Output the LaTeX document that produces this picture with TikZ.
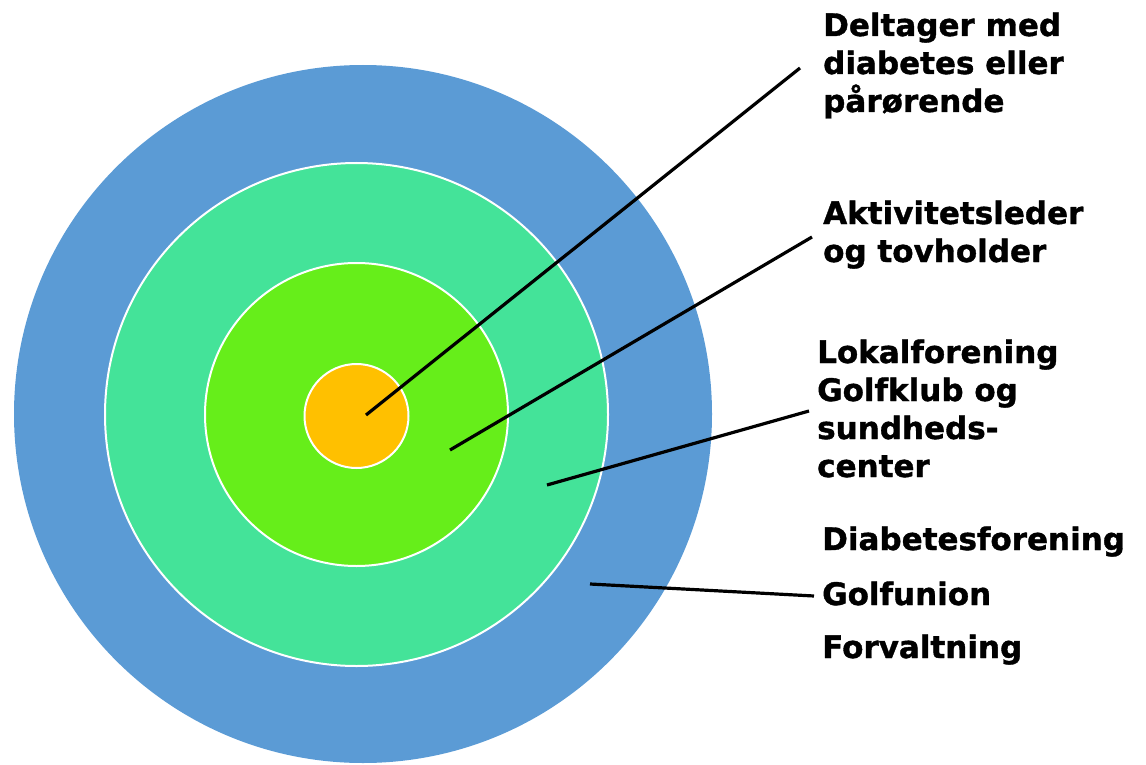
\documentclass[tikz,border=0pt]{standalone}
\usepackage{fontspec}
\setmainfont{DejaVu Sans}
\newfontfamily\labelfont{DejaVu Sans Bold}[FakeBold=1.2]
\definecolor{ringblue}{HTML}{5B9BD5}
\definecolor{ringteal}{HTML}{44E399}
\definecolor{ringlime}{HTML}{66EE1A}
\definecolor{ringorange}{HTML}{FFC000}
\tikzset{
  ring/.style={draw=white, line width=2pt},
  pointer/.style={draw=black, line width=3.2pt},
  label/.style={anchor=base west, inner sep=0pt, align=left,
    font=\fontsize{31}{38}\labelfont}
}
\begin{document}
\begin{tikzpicture}[x=1pt, y=-1pt]
    \useasboundingbox (0,0) rectangle (1146,765);

    % Target circles
    \coordinate (C) at (363, 414);
    \coordinate (M) at (356.5, 414.5);
    \fill[ringblue] (C) circle[radius=349pt];
    \filldraw[ring, fill=ringteal] (M) circle[radius=251.5pt];
    \filldraw[ring, fill=ringlime] (M) circle[radius=151.5pt];
    \filldraw[ring, fill=ringorange] (356.5, 416) circle[radius=52pt];

    % Labels (anchored at the last line)
    \node[label] (deltager) at (823, 112) {Deltager med\\diabetes eller\\pårørende};
    \node[label] (leder) at (823, 262) {Aktivitetsleder\\og tovholder};
    \node[label] (lokal) at (817, 477) {Lokalforening\\Golfklub og\\sundheds-\\center};
    \node[label] (diabetes) at (822, 550) {Diabetesforening};
    \node[label] (golfunion) at (822, 605) {Golfunion};
    \node[label] (forvaltning) at (822, 658) {Forvaltning};

    % Pointer ends
    \coordinate (P1) at (366, 415);
    \coordinate (Q1) at (800, 68);
    \coordinate (P2) at (450, 450);
    \coordinate (Q2) at (812, 237);
    \coordinate (P3) at (547, 485);
    \coordinate (Q3) at (809, 411);
    \coordinate (P4) at (590, 584);
    \coordinate (Q4) at (814, 596);

    % Pointer lines
    \draw[pointer] (P1) -- (Q1);
    \draw[pointer] (P2) -- (Q2);
    \draw[pointer] (P3) -- (Q3);
    \draw[pointer] (P4) -- (Q4);
\end{tikzpicture}
\end{document}
